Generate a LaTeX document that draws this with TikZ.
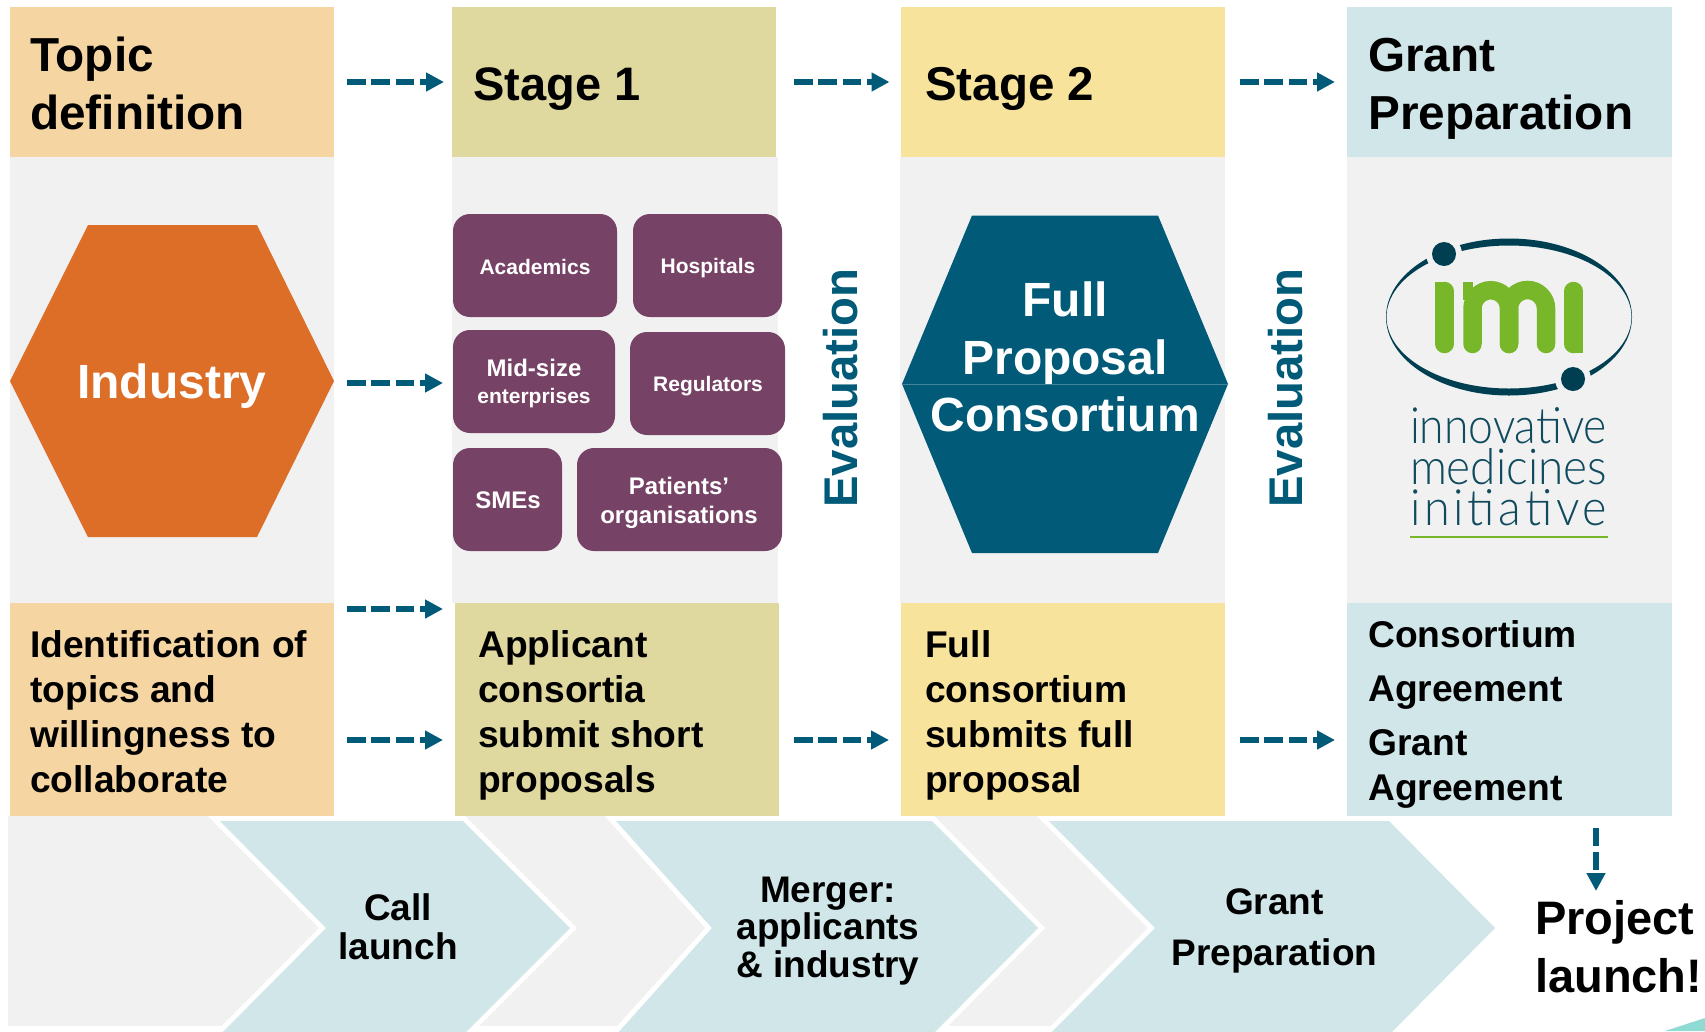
\documentclass[tikz,border=0pt]{standalone}
\usepackage{fontspec}
\setmainfont{Liberation Sans}
\newfontfamily\logofont{Lato Light}
\usetikzlibrary{arrows.meta}
\definecolor{teal1}{HTML}{005A78}
\definecolor{grayband}{HTML}{F1F1F1}
\definecolor{cTopic}{HTML}{F5D6A3}
\definecolor{cStageA}{HTML}{DFD89F}
\definecolor{cStageB}{HTML}{F8E39C}
\definecolor{cGrant}{HTML}{D0E6E9}
\definecolor{cPurple}{HTML}{764265}
\definecolor{cOrange}{HTML}{DC6E27}
\definecolor{logoDark}{HTML}{003F52}
\definecolor{logoText}{HTML}{0F4A5E}
\definecolor{logoGreen}{HTML}{78B72A}
\definecolor{cCorner}{HTML}{8FDAD2}
\newcommand{\fs}[2]{\fontsize{#1}{#2}\selectfont}
\tikzset{
 x=1pt,y=-1pt,
 box/.style={anchor=north west,minimum width=#1,inner sep=0pt,outer sep=0pt},
 head/.style={anchor=base west,inner sep=0pt,align=left,font=\bfseries\fs{47.7}{57.5}},
 body/.style={anchor=base west,inner sep=0pt,align=left,font=\bfseries\fs{37.2}{45}},
 chevtxt/.style={anchor=base,inner sep=0pt,align=center,font=\bfseries\fs{37}{37.5}},
 pill/.style={draw=none,fill=cPurple,rounded corners=17pt},
 pilltxt/.style={anchor=center,inner sep=0pt,align=center,text=white,font=\bfseries\fs{21}{27}},
 chev/.style={fill=cGrant,preaction={draw=white,line width=10pt}},
 flow/.style={draw=teal1,line width=6pt,dash pattern=on 18.7pt off 5.6pt,-{Triangle[length=18pt,width=18pt]}},
 imistroke/.style={draw=logoGreen,line width=18.5pt,line cap=round},
}
\begin{document}
\begin{tikzpicture}
\useasboundingbox (0,0) rectangle (1705,1031);
\clip (0,0) rectangle (1705,1031);
% grey columns
\fill[grayband] (10,157) rectangle (334,603);
\fill[grayband] (452,157) rectangle (778,603);
\fill[grayband] (900,157) rectangle (1225,603);
\fill[grayband] (1347,157) rectangle (1672,603);
\fill[grayband] (8,816) rectangle (1160,1026);
% top boxes
\node[box=324pt,minimum height=150pt,fill=cTopic] (topic) at (10,7) {};
\node[box=324pt,minimum height=150pt,fill=cStageA] (stageA) at (452,7) {};
\node[box=324.5pt,minimum height=150pt,fill=cStageB] (stageB) at (900.5,7) {};
\node[box=325pt,minimum height=150pt,fill=cGrant] (grant) at (1347,7) {};
\node[head] (topicT) at (30,129) {Topic\\definition};
\node[head,font=\bfseries\fs{47}{57.5}] (stageAT) at (473,100.5) {Stage 1};
\node[head,font=\bfseries\fs{47.5}{57.5}] (stageBT) at (925,100.5) {Stage 2};
\node[head] (grantT) at (1368,129) {Grant\\Preparation};
% bottom boxes
\node[box=324pt,minimum height=213pt,fill=cTopic] (topicB) at (10,603) {};
\node[box=324pt,minimum height=213pt,fill=cStageA] (stageAB) at (455,603) {};
\node[box=324.5pt,minimum height=213pt,fill=cStageB] (stageBB) at (900.5,603) {};
\node[box=325pt,minimum height=213pt,fill=cGrant] (grantB) at (1347,603) {};
\node[body] (topicBT) at (30,792) {Identification of\\topics and\\willingness to\\collaborate};
\node[body] (stageABT) at (478,792) {Applicant\\consortia\\submit short\\proposals};
\node[body] (stageBBT) at (925,792) {Full\\consortium\\submits full\\proposal};
\node[body] (grantBT) at (1368,800) {Consortium\\[9pt]Agreement\\[9pt]Grant\\Agreement};
% hexagons
\fill[cOrange] (10,381) -- (88,225) -- (257,225) -- (334,381) -- (257,537) -- (88,537) -- cycle;
\node[anchor=center,inner sep=0pt,text=white,font=\bfseries\fs{48}{50}] (industry) at (172,386) {Industry};
\fill[teal1] (902,384) -- (972,215.5) -- (1158,215.5) -- (1228,384) -- (1158,553) -- (972,553) -- cycle;
\draw[teal1!75!white,line width=0.8pt] (902,384) -- (1228,384);
\node[anchor=base,inner sep=0pt,align=center,text=white,font=\bfseries\fs{48}{57.5}] (fpc) at (1065,431.5) {Full\\Proposal\\Consortium};
% pills
\fill[pill] (453,214) rectangle (617,317);
\fill[pill] (633,214) rectangle (782,317);
\fill[pill] (453,330) rectangle (615,433);
\fill[pill] (630,332) rectangle (785,435);
\fill[pill] (453,448) rectangle (562,551);
\fill[pill] (577,448) rectangle (782,551);
\node[pilltxt] (acad) at (535,267) {Academics};
\node[pilltxt] (hosp) at (708,268) {Hospitals};
\node[pilltxt] (mid) at (534,383.5) {{\fs{24}{27}\bfseries Mid-size}\\enterprises};
\node[pilltxt] (reg) at (708,386) {Regulators};
\node[pilltxt,font=\bfseries\fs{24}{29}] (sme) at (508,500) {SMEs};
\node[pilltxt,font=\bfseries\fs{24}{29}] (pat) at (679,503) {Patients’\\organisations};
% evaluation
\node[rotate=90,anchor=center,inner sep=0pt,text=teal1,font=\bfseries\fs{47.3}{50}] (evalA) at (841,388) {Evaluation};
\node[rotate=90,anchor=center,inner sep=0pt,text=teal1,font=\bfseries\fs{47.3}{50}] (evalB) at (1286,388) {Evaluation};
% chevrons
\fill[chev] (220,821) -- (463,821) -- (570,928) -- (463,1035) -- (220,1035) -- (326,928) -- cycle;
\fill[chev] (616,821) -- (932,821) -- (1038,928) -- (932,1035) -- (616,1035) -- (712,928) -- cycle;
\fill[chev] (1049,821) -- (1389,821) -- (1495,928) -- (1389,1035) -- (1049,1035) -- (1155,928) -- cycle;
\node[chevtxt] (call) at (398,959) {Call\\[1pt]launch};
\node[chevtxt] (merger) at (828,977) {Merger:\\applicants\\\& industry};
\node[chevtxt] (prep) at (1274.5,965.5) {Grant\\[14pt]Preparation};
\node[anchor=base west,inner sep=0pt,align=left,font=\bfseries\fs{47}{58}] (launch) at (1535,992.5) {Project\\launch!};
\fill[cCorner] (1665,1031) -- (1705,1018) -- (1705,1031) -- cycle;
% arrows
\draw[flow,shorten <=13pt,shorten >=8pt] (topic) -- (stageA);
\draw[flow,shorten <=18pt,shorten >=11pt] (stageA) -- (stageB);
\draw[flow,shorten <=15pt,shorten >=12pt] (stageB) -- (grant);
\coordinate (m1) at (347,383); \coordinate (m2) at (443,383);
\coordinate (n1) at (347,609); \coordinate (n2) at (443,609);
\coordinate (b1) at (347,740); \coordinate (b2) at (443,740);
\coordinate (c1) at (794,740); \coordinate (c2) at (889,740);
\coordinate (d1) at (1240,740); \coordinate (d2) at (1335,740);
\draw[flow] (m1) -- (m2);
\draw[flow] (n1) -- (n2);
\draw[flow] (b1) -- (b2);
\draw[flow] (c1) -- (c2);
\draw[flow] (d1) -- (d2);
\coordinate (v1) at (1596,828); \coordinate (v2) at (1596,891);
\draw[draw=teal1,line width=6pt,dash pattern=on 18pt off 6pt,-{Triangle[length=18pt,width=18pt]}] (v1) -- (v2);
% logo
\fill[logoDark,even odd rule] (1509,317) ellipse [x radius=123,y radius=78.5] (1509,317) ellipse [x radius=122.5,y radius=71.5];
\fill[grayband] (1444,254) circle (18);
\fill[grayband] (1573,379) circle (18);
\fill[logoDark] (1444,254) circle (12);
\fill[logoDark] (1573,379) circle (12);
\draw[imistroke] (1444.5,291) -- (1444.5,344);
\fill[logoGreen] (1435,282) rectangle (1445,300);
\draw[imistroke] (1573.5,291) -- (1573.5,344);
\fill[logoGreen] (1573,335) rectangle (1583,353);
\draw[imistroke] (1472.5,344) -- (1472.5,308.5) arc[start angle=180,end angle=360,radius=18.25] -- (1509,344);
\draw[imistroke] (1509,344) -- (1509,308.5) arc[start angle=180,end angle=360,radius=18.5] -- (1546,344);
\fill[logoGreen] (1463,282) rectangle (1473,300);
\node[anchor=base,inner sep=0pt,text=logoText] (lt1) at (1508.5,443) {\resizebox{197pt}{36pt}{\logofont\fs{46}{50}innovative}};
\node[anchor=base,inner sep=0pt,text=logoText] (lt2) at (1508.5,484) {\resizebox{197pt}{36pt}{\logofont\fs{46}{50}medicines}};
\node[anchor=base,inner sep=0pt,text=logoText] (lt3) at (1508.5,525) {\resizebox{197pt}{36pt}{\logofont\addfontfeature{LetterSpace=8}\fs{46}{50}initiative}};
\draw[logoGreen,line width=1.5pt] (1410,537) -- (1608,537);
\end{tikzpicture}
\end{document}
